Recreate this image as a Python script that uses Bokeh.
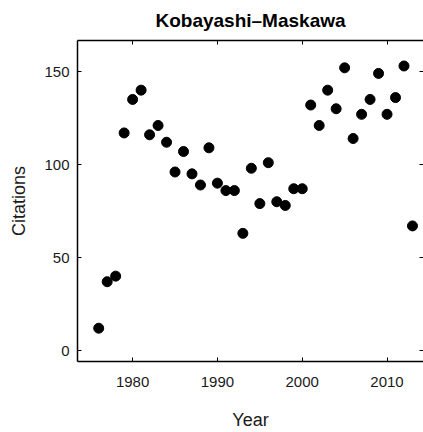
from bokeh.plotting import figure
from bokeh.models import LinearAxis, Range1d, FixedTicker
from bokeh.embed import file_html
from bokeh.resources import INLINE

years = list(range(1976, 2014))
citations = [12, 37, 40, 117, 135, 140, 116, 121, 112, 96,
             107, 95, 89, 109, 90, 86, 86, 63, 98, 79,
             101, 80, 78, 87, 87, 132, 121, 140, 130, 152,
             114, 127, 135, 149, 127, 136, 153, 67]
x_ticks = [1980, 1990, 2000, 2010]
y_ticks = [0, 50, 100, 150]

FONT = "Liberation Sans"

p = figure(width=423, height=432, output_backend="svg", toolbar_location=None,
           x_range=Range1d(1973.5, 2014.3), y_range=Range1d(-5.9, 166.7),
           x_axis_location=None, y_axis_location=None,
           min_border_left=77, min_border_right=0, min_border_top=40, min_border_bottom=71)
p.outline_line_color = None
p.grid.visible = False
p.title.text = "Kobayashi\u2013Maskawa"
p.title.align = "center"
p.title.vertical_align = "top"
p.title.text_font = FONT
p.title.text_font_size = "19px"
p.title.text_font_style = "bold"
p.title.text_color = "black"
p.title.standoff = 15

def style(ax, labels=True):
    ax.axis_line_width = 1.5
    ax.axis_line_color = "black"
    ax.major_tick_in = 4
    ax.major_tick_out = 0
    ax.minor_tick_in = 0
    ax.minor_tick_out = 0
    ax.major_tick_line_color = "black"
    ax.major_tick_line_width = 1
    ax.major_label_text_font = FONT
    ax.major_label_text_font_size = "15px"
    ax.major_label_text_color = "#1a1a1a"
    ax.axis_label_text_font = FONT
    ax.axis_label_text_font_size = "18px"
    ax.axis_label_text_font_style = "normal"
    ax.axis_label_text_color = "#1a1a1a"
    if not labels:
        ax.major_label_standoff = 0
        ax.major_label_overrides = {t: "" for t in ax.ticker.ticks}

xb = LinearAxis(ticker=FixedTicker(ticks=x_ticks), axis_label="Year")
style(xb)
xb.major_label_standoff = 15
xb.axis_label_standoff = 20
p.add_layout(xb, "below")

yl = LinearAxis(ticker=FixedTicker(ticks=y_ticks), axis_label="Citations")
style(yl)
yl.major_label_standoff = 8
yl.axis_label_standoff = 12
p.add_layout(yl, "left")

xt = LinearAxis(ticker=FixedTicker(ticks=x_ticks))
style(xt, labels=False)
p.add_layout(xt, "above")

yr = LinearAxis(ticker=FixedTicker(ticks=y_ticks))
style(yr, labels=False)
yr.axis_line_color = None
p.add_layout(yr, "right")

p.scatter(years, citations, size=10, color="black")

open("out.html", "w").write(file_html(p, INLINE))
